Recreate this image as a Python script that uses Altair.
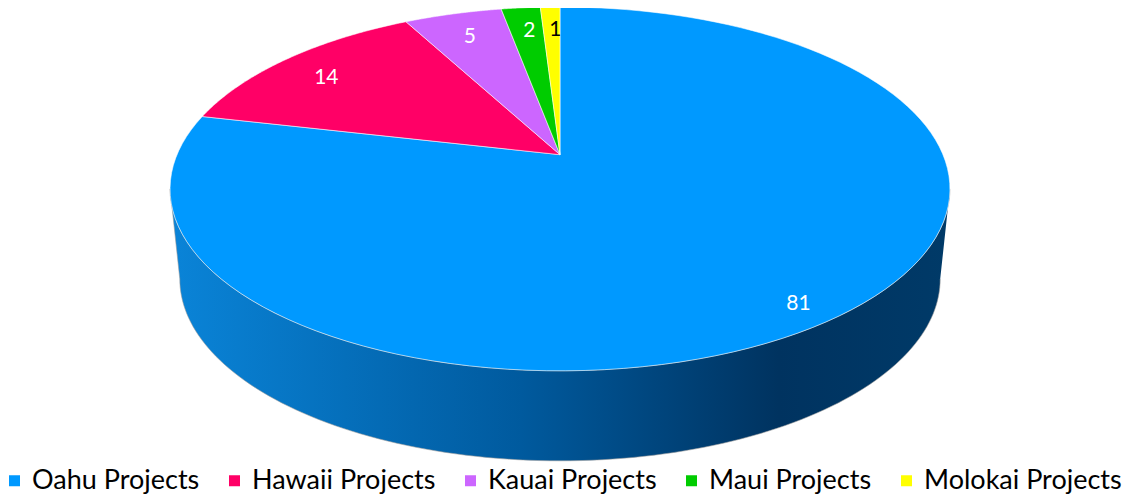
import altair as alt
import pandas as pd

# ---- data ----
names = ["Oahu Projects", "Hawaii Projects", "Kauai Projects", "Maui Projects", "Molokai Projects"]
values = [81, 14, 5, 2, 1]
colors = ["#0099FF", "#FF0066", "#CC66FF", "#00CC00", "#FFFF00"]

df = pd.DataFrame({"name": names, "value": values, "ord": list(range(len(names)))})

# ---- geometry / style constants (plot-area pixels) ----
W, H = 1116, 440
CX, CY = 552, 147.7          # pie apex
S, S2, K = 383, 175.5, 0.188 # perspective ellipse
DEPTH, BS = 90, 0.975        # side depth, bottom shrink
N = 120                      # arc resolution
R_LAB = 0.86

xenc = alt.X("x:Q", scale=alt.Scale(domain=[0, W], nice=False, zero=False), axis=None)
yenc = alt.Y("y:Q", scale=alt.Scale(domain=[0, H], nice=False, zero=False, reverse=True), axis=None)

base = (
    alt.Chart(df)
    .transform_joinaggregate(total="sum(value)")
    .transform_window(cum="sum(value)", sort=[alt.SortField("ord")], frame=[None, 0])
    .transform_calculate(
        start="(datum.cum - datum.value) / datum.total * 2 * PI",
        end="datum.cum / datum.total * 2 * PI",
    )
)

def proj(px, py):
    return (f"{CX} + {S} * ({px}) / (1 + {K} * ({py}))",
            f"{CY} - {S2} * ({py}) / (1 + {K} * ({py}))")

# side wall (front, visible part)
M = N
sx, sy = proj("sin(datum.phi)", "cos(datum.phi)")
side = (
    base.transform_calculate(
        a=f"max(datum.start, PI/2 + asin({K}))",
        b=f"min(datum.end, 3*PI/2 - asin({K}))",
    )
    .transform_filter("datum.a < datum.b")
    .transform_calculate(idx=f"sequence(0, {2 * M + 2})")
    .transform_flatten(["idx"])
    .transform_calculate(
        istop=f"datum.idx <= {M}",
        j=f"datum.idx <= {M} ? datum.idx : {2 * M + 1} - datum.idx",
    )
    .transform_calculate(phi=f"datum.a + (datum.b - datum.a) * datum.j / {M}")
    .transform_calculate(xt=sx, yt=sy)
    .transform_calculate(
        x=f"datum.istop ? datum.xt : {CX} + {BS} * (datum.xt - {CX})",
        y=f"datum.istop ? datum.yt : datum.yt + {DEPTH}",
    )
    .mark_line(
        fill=alt.Gradient(
            gradient="linear",
            stops=[
                alt.GradientStop(color="#0A84D8", offset=0),
                alt.GradientStop(color="#005A9E", offset=0.45),
                alt.GradientStop(color="#003360", offset=0.78),
                alt.GradientStop(color="#003A68", offset=1),
            ],
            x1=0, x2=1, y1=0, y2=0,
        ),
        stroke="#9a9a9a", strokeWidth=0.8, strokeOpacity=0.7,
    )
    .encode(x=xenc, y=yenc, detail="name:N", order="idx:Q")
)

# top face wedges
tx, ty = proj("datum.px", "datum.py")
top = (
    base.transform_calculate(idx=f"sequence(-1, {N + 2})")
    .transform_flatten(["idx"])
    .transform_calculate(
        phi=f"datum.start + (datum.end - datum.start) * min(max(datum.idx, 0), {N}) / {N}"
    )
    .transform_calculate(
        px=f"(datum.idx < 0 || datum.idx > {N}) ? 0 : sin(datum.phi)",
        py=f"(datum.idx < 0 || datum.idx > {N}) ? 0 : cos(datum.phi)",
    )
    .transform_calculate(x=tx, y=ty)
    .mark_line(filled=True, stroke="#ffffff", strokeWidth=1, strokeOpacity=0.55)
    .encode(
        x=xenc, y=yenc, order="idx:Q",
        color=alt.Color(
            "name:N",
            scale=alt.Scale(domain=names, range=colors),
            legend=alt.Legend(
                title=None, orient="none", direction="horizontal",
                legendX=0, legendY=460, symbolType="square", symbolSize=121,
                symbolStrokeWidth=0, symbolOffset=-7, labelFont="Lato",
                labelFontSize=27, labelColor="#000000", labelOffset=4,
                columnPadding=28, padding=0, labelLimit=400,
            ),
        ),
    )
)

# labels
lx, ly = proj(f"{R_LAB} * sin(datum.mid)", f"{R_LAB} * cos(datum.mid)")
labels = (
    base.transform_calculate(mid="(datum.start + datum.end) / 2")
    .transform_calculate(x=f"{lx} + 4", y=f"{ly} + 10.3 - 5.1 * cos(datum.mid)")
    .mark_text(font="Lato", fontSize=21, baseline="middle", align="center")
    .encode(
        x=xenc, y=yenc, text="value:Q",
        color=alt.condition(alt.datum.name == "Molokai Projects", alt.value("#000000"), alt.value("#ffffff")),
    )
)

chart = (
    alt.layer(side, top, labels)
    .properties(width=W, height=H, padding={"top": -4, "left": 0, "right": 0, "bottom": 0})
    .configure_view(stroke=None)
)

chart.save("out.html", embed_options={"renderer": "svg", "actions": False})
